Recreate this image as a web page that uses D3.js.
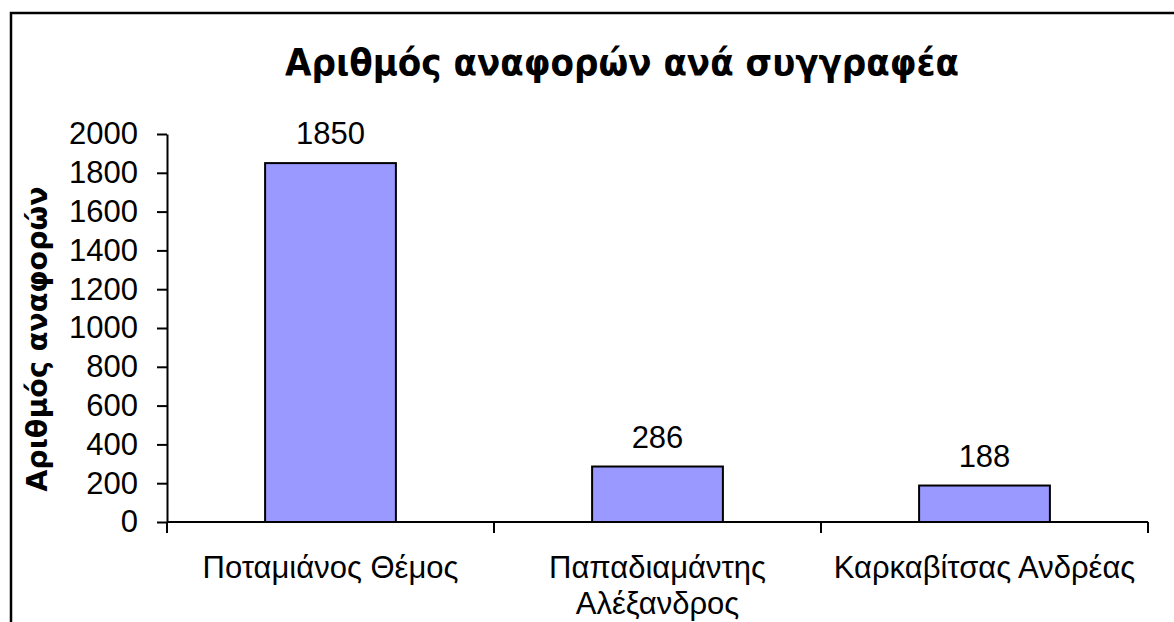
<!DOCTYPE html>
<html><head><meta charset="utf-8">
<script src="https://cdn.jsdelivr.net/npm/d3@7"></script>
<style>body{margin:0;background:#fff;} svg{display:block;}</style>
</head><body>
<svg id="chart" width="1174" height="622"></svg>
<script>
const categories = ["Ποταμιάνος Θέμος", "Παπαδιαμάντης Αλέξανδρος", "Καρκαβίτσας Ανδρέας"];
const values = [1850, 286, 188];
const yTicks = [0, 200, 400, 600, 800, 1000, 1200, 1400, 1600, 1800, 2000];
const titleText = "Αριθμός αναφορών ανά συγγραφέα";
const yTitleText = "Αριθμός αναφορών";

(function () {
const svg = d3.select("#chart");
svg.append("rect").attr("x", 0).attr("y", 0).attr("width", 1174).attr("height", 622).attr("fill", "#fff");
svg.append("rect").attr("x", 11).attr("y", 13).attr("width", 1200).attr("height", 700)
  .attr("fill", "none").attr("stroke", "#000").attr("stroke-width", 2.5);

const pLeft = 167, pRight = 1148, pTop = 134, pBottom = 522;
const y = d3.scaleLinear().domain([0, 2000]).range([pBottom, pTop]);
const x = d3.scaleBand().domain(categories).range([pLeft, pRight]).paddingInner(0.6).paddingOuter(0.3);

const labelFont = "'Liberation Sans', Arial, sans-serif";
const boldFont = "'DejaVu Sans', sans-serif";
const condFont = "'DejaVu Sans Condensed', 'DejaVu Sans', sans-serif";
const fs = 31;

// title
svg.append("text").attr("x", 622).attr("y", 75).attr("text-anchor", "middle")
  .attr("font-family", condFont).attr("font-weight", "bold").attr("font-size", 38)
  .attr("fill", "#000").text(titleText);

// y axis
const yAxis = svg.append("g").attr("transform", `translate(${pLeft},0)`)
  .call(d3.axisLeft(y).tickValues(yTicks).tickSize(10).tickSizeOuter(0).tickPadding(19).tickFormat(d3.format("d")));
yAxis.select(".domain").attr("stroke", "#000").attr("stroke-width", 2);
yAxis.selectAll(".tick line").attr("stroke", "#000").attr("stroke-width", 2);
yAxis.selectAll(".tick text").attr("font-family", labelFont).attr("font-size", fs).attr("fill", "#000");

// y title
svg.append("text").attr("transform", `translate(47,339) rotate(-90)`).attr("text-anchor", "middle")
  .attr("font-family", boldFont).attr("font-weight", "bold").attr("font-size", 28.5)
  .attr("fill", "#000").text(yTitleText);

// bars
svg.append("g").selectAll("rect").data(values).join("rect")
  .attr("x", (d, i) => x(categories[i]))
  .attr("y", d => y(d))
  .attr("width", x.bandwidth())
  .attr("height", d => y(0) - y(d))
  .attr("fill", "#9999FF").attr("stroke", "#000").attr("stroke-width", 2);

// value labels
svg.append("g").selectAll("text").data(values).join("text")
  .attr("x", (d, i) => x(categories[i]) + x.bandwidth() / 2)
  .attr("y", d => y(d) - 19)
  .attr("text-anchor", "middle").attr("font-family", labelFont).attr("font-size", fs).attr("fill", "#000")
  .text(d => d);

// x axis line and boundary ticks
const gap = (x.step() - x.bandwidth()) / 2;
const bounds = categories.map(c => x(c) - gap).concat([x(categories[categories.length - 1]) + x.bandwidth() + gap]);
svg.append("line").attr("x1", pLeft).attr("x2", pRight).attr("y1", y(0)).attr("y2", y(0))
  .attr("stroke", "#000").attr("stroke-width", 2);
svg.append("g").selectAll("line").data(bounds).join("line")
  .attr("x1", d => d).attr("x2", d => d).attr("y1", y(0)).attr("y2", y(0) + 11)
  .attr("stroke", "#000").attr("stroke-width", 2);

// category labels with wrap
const catG = svg.append("g");
categories.forEach((c, i) => {
  const cx = x(c) + x.bandwidth() / 2;
  const t = catG.append("text").attr("x", cx).attr("y", 578).attr("text-anchor", "middle")
    .attr("font-family", labelFont).attr("font-size", fs).attr("fill", "#000");
  const words = c.split(" ");
  let line = [];
  let ts = t.append("tspan").attr("x", cx).attr("dy", 0);
  words.forEach(w => {
    line.push(w);
    ts.text(line.join(" "));
    if (ts.node().getComputedTextLength() > x.step() - 4 && line.length > 1) {
      line.pop(); ts.text(line.join(" "));
      line = [w];
      ts = t.append("tspan").attr("x", cx).attr("dy", 36).text(w);
    }
  });
});
})();
</script>
</body></html>
